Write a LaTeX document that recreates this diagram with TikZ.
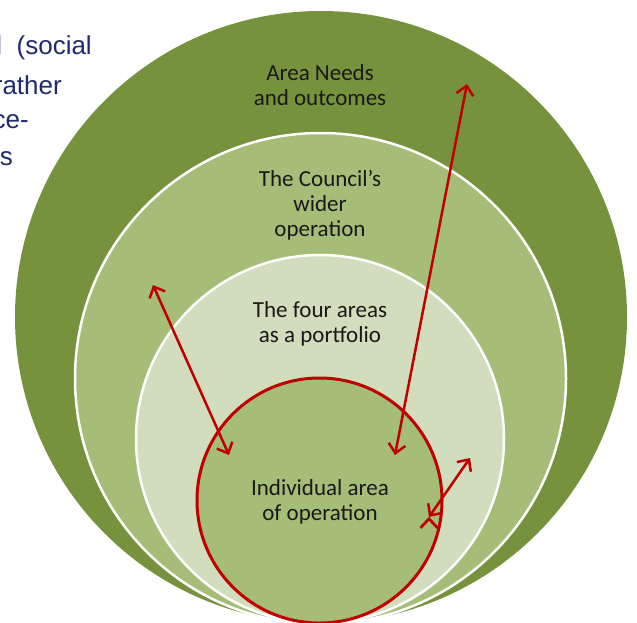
\documentclass[tikz,border=0pt]{standalone}
\usepackage{fontspec}
\setmainfont{Carlito}
\newfontfamily\slidefont{Liberation Sans}
\usetikzlibrary{arrows.meta}

\definecolor{needsgreen}{HTML}{76923C}
\definecolor{councilgreen}{HTML}{A5BD77}
\definecolor{portfoliogreen}{HTML}{D1DDBC}
\definecolor{linkred}{HTML}{C00000}
\definecolor{slideblue}{HTML}{1F2A6E}

\begin{document}
\begin{tikzpicture}[x=1pt,y=-1pt,>={Straight Barb[length=9pt,width=17pt]},
        ring/.style={circle,inner sep=0pt,draw=white,line width=2.5pt},
        ringtext/.style={align=center,inner sep=0pt,text=black!90,font=\fontsize{23}{25}\selectfont},
        slidetext/.style={anchor=east,inner sep=0pt,text=slideblue,font=\slidefont\fontsize{26}{37}\selectfont},
        link/.style={<->,draw=linkred,line width=2.5pt}]
        \useasboundingbox (0,0) rectangle (637,622);
        \clip (0,0) rectangle (637,622);

        % slide text behind the circles
        \node[slidetext] (s1) at (92,48) {l\ \ (social};
        \node[slidetext] (s2) at (62,85) {rather};
        \node[slidetext] (s3) at (29,122) {ce-};
        \node[slidetext] (s4) at (13,159) {s};

        % nested circles
        \node[ring,draw=none,fill=needsgreen,minimum size=612pt] (needs) at (321,317) {};
        \node[ring,fill=councilgreen,minimum size=491pt] (council) at (320.5,378.5) {};
        \node[ring,fill=portfoliogreen,minimum size=368pt] (portfolio) at (320,439) {};
        \node[ring,draw=linkred,line width=3pt,fill=councilgreen,minimum size=245pt] (individual) at (319.5,500.5) {};

        \node[ringtext] (needstext) at (320,85) {Area Needs\\and outcomes};
        \node[ringtext] (counciltext) at (320,205) {The Council’s\\wider\\operation};
        \node[ringtext] (portfoliotext) at (320,323.5) {The four areas\\as a portfolio};
        \node[ringtext] (individualtext) at (320,502) {Individual area\\of operation};

        % links between the levels
        \coordinate (councilend) at (153,285);
        \coordinate (councilin) at (229,455);
        \coordinate (needsend) at (467,84);
        \coordinate (needsin) at (395,455);
        \coordinate (portfolioend) at (470,458);
        \coordinate (portfolioin) at (429,517);

        \path[link] (councilend) edge (councilin)
                    (needsin) edge (needsend)
                    (portfolioin) edge (portfolioend);
    \end{tikzpicture}
\end{document}
